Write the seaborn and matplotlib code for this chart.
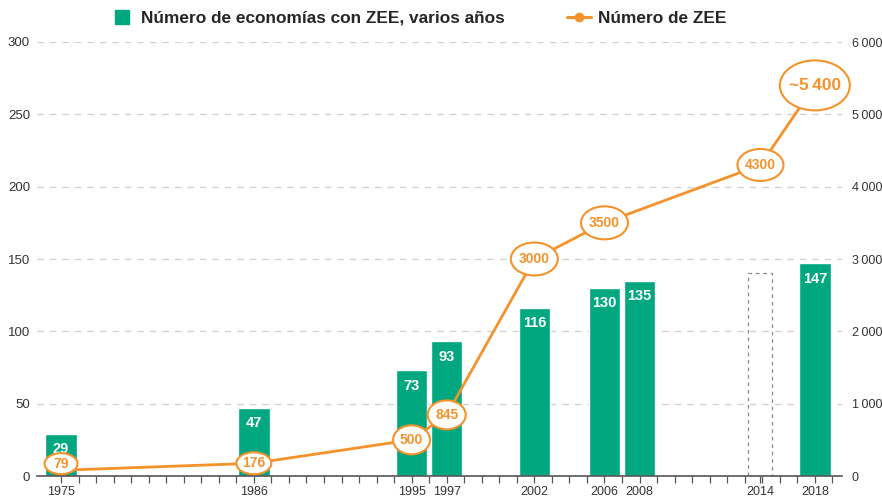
import matplotlib
matplotlib.use("Agg")
import matplotlib.pyplot as plt
from matplotlib.lines import Line2D
from matplotlib.patches import Ellipse
from matplotlib.transforms import ScaledTranslation
import seaborn as sns
import pandas as pd

# ---- data ----
bar_years = [1975, 1986, 1995, 1997, 2002, 2006, 2008, 2018]
bar_values = [29, 47, 73, 93, 116, 130, 135, 147]
placeholder_year = 2014
placeholder_value = 140

zee_years = [1975, 1986, 1995, 1997, 2002, 2006, 2014, 2018]
zee_values = [79, 176, 500, 845, 3000, 3500, 4300, 5400]
zee_labels = ["79", "176", "500", "845", "3000", "3500", "4300", "~5\u2009400"]

xtick_years = [1975, 1986, 1995, 1997, 2002, 2006, 2008, 2014, 2018]
left_ticks = [0, 50, 100, 150, 200, 250, 300]
right_ticks = [0, 1000, 2000, 3000, 4000, 5000, 6000]
right_tick_labels = ["0", "1\u2009000", "2\u2009000", "3\u2009000", "4\u2009000", "5\u2009000", "6\u2009000"]

legend_bar = "Número de economías con ZEE, varios años"
legend_line = "Número de ZEE"

# ---- style ----
GREEN = "#00A77F"
ORANGE = "#F5922A"
GRID = "#cfcfcf"
TXT = "#333333"

sns.set_theme(style="white")
plt.rcParams["font.family"] = ["Liberation Sans", "DejaVu Sans"]


def plot_x(y):
    # the 2014 column sits roughly one year to the right in the original layout
    return 2014.9 if y == 2014 else y


fig = plt.figure(figsize=(8.82, 4.98), dpi=100)
ax = fig.add_axes([37 / 882, 1 - 476 / 498, (842 - 37) / 882, (476 - 42) / 498])

df_bars = pd.DataFrame({"year": bar_years, "value": bar_values})
sns.barplot(data=df_bars, x="year", y="value", native_scale=True, width=0.9,
            color=GREEN, saturation=1, ax=ax, zorder=2)
ax.bar_label(ax.containers[0], labels=[str(v) for v in bar_values], padding=-16,
             color="white", fontsize=10.5, fontweight="bold")

ax.bar(plot_x(placeholder_year), placeholder_value, width=1.37, fill=False,
       edgecolor="#8a8a8a", linestyle=(0, (3, 3)), linewidth=0.9, zorder=2)

ax.set_xlim(1973.63, 2019.55)
ax.set_ylim(0, 300)
ax.set_yticks(left_ticks)
ax.set_yticklabels([str(t) for t in left_ticks], color=TXT, fontsize=9.5)
ax.set_xticks([plot_x(y) for y in xtick_years])
ax.set_xticklabels([str(y) for y in xtick_years], color=TXT, fontsize=9)
ax.set_xticks(list(range(1975, 2020)), minor=True)
ax.tick_params(axis="x", which="both", direction="out", length=5, width=0.9,
               color="#555555", pad=2.5, bottom=True)
ax.tick_params(axis="y", length=0, pad=5)
ax.set_xlabel("")
ax.set_ylabel("")
for t in left_ticks[1:]:
    ax.axhline(t, color=GRID, linestyle=(0, (5, 5)), linewidth=0.9, zorder=0)
for s in ["top", "left", "right"]:
    ax.spines[s].set_visible(False)
ax.spines["bottom"].set_color("#555555")
ax.spines["bottom"].set_linewidth(1.2)

ax2 = ax.twinx()
sns.lineplot(x=[plot_x(y) for y in zee_years], y=zee_values, color=ORANGE,
             linewidth=2, ax=ax2, zorder=3)
ax2.set_ylim(0, 6000)
ax2.set_yticks(right_ticks)
ax2.set_yticklabels(right_tick_labels, color=TXT, fontsize=9)
ax2.tick_params(axis="y", length=0, pad=7)
for s in ["top", "left", "right", "bottom"]:
    ax2.spines[s].set_visible(False)
ax2.set_ylabel("")

# ellipse sizes in pixels (w, h) and font sizes for the circled labels
ell_w = [33, 35, 37, 38, 47, 47, 46, 70]
ell_h = [21, 22, 29, 29, 33, 33, 32, 50]
fsz = [10, 10, 10, 10, 10, 10, 10, 12.5]
for y, v, lab, w, h, fs in zip(zee_years, zee_values, zee_labels, ell_w, ell_h, fsz):
    yy = max(v, 170)
    tr = fig.dpi_scale_trans + ScaledTranslation(plot_x(y), yy, ax2.transData)
    ax2.add_patch(Ellipse((0, 0), w / 100, h / 100, transform=tr, facecolor="white",
                          edgecolor=ORANGE, linewidth=1.5, zorder=4, clip_on=False))
    ax2.text(plot_x(y), yy, lab, ha="center", va="center", color=ORANGE,
             fontsize=fs, fontweight="bold", zorder=5)

handles = [
    Line2D([], [], marker="s", linestyle="none", markersize=10,
           markerfacecolor=GREEN, markeredgecolor=GREEN),
    Line2D([], [], color=ORANGE, linewidth=2.2, marker="o", markersize=6),
]
fig.legend(handles, [legend_bar, legend_line], loc="center", bbox_to_anchor=(0.474, 0.963),
           ncol=2, frameon=False, prop={"weight": "bold", "size": 12.4},
           handlelength=1.4, handletextpad=0.4, columnspacing=3.6)

fig.savefig("out.png", dpi=100)
